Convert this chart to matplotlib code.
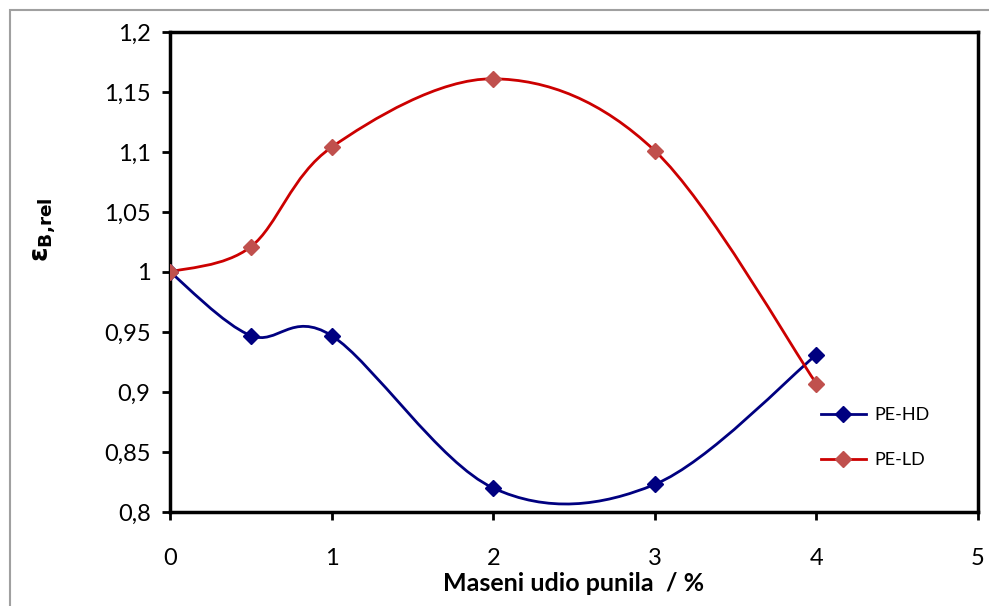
import numpy as np
import matplotlib.pyplot as plt
from matplotlib.path import Path
from matplotlib.patches import PathPatch, Rectangle
from matplotlib.lines import Line2D
from matplotlib.ticker import FuncFormatter

plt.rcParams['font.family'] = ['Lato', 'DejaVu Sans']

# data
x = [0, 0.5, 1, 2, 3, 4]
pe_hd = [1.0, 0.947, 0.947, 0.820, 0.823, 0.931]
pe_ld = [1.0, 1.021, 1.104, 1.161, 1.101, 0.907]
labels = ['PE-HD', 'PE-LD']


def smooth_path(xs, ys):
    # excel-like smoothed line: cubic bezier, control points from neighbours
    p = np.column_stack([xs, ys])
    pp = np.vstack([p[0], p, p[-1]])
    verts = [p[0]]
    codes = [Path.MOVETO]
    for i in range(len(p) - 1):
        a, b, c, d = pp[i], pp[i + 1], pp[i + 2], pp[i + 3]
        verts += [b + (c - a) / 6, c - (d - b) / 6, c]
        codes += [Path.CURVE4] * 3
    return Path(verts, codes)


fig = plt.figure(figsize=(9.89, 6.06), dpi=100)
fig.patches.append(Rectangle((10 / 989, -0.1), 1.2, 1 - 10 / 606 + 0.1,
                             transform=fig.transFigure, fill=False,
                             edgecolor='#a0a0a0', linewidth=1.5))
ax = fig.add_axes([170 / 989, 1 - 512 / 606, (978 - 170) / 989, (512 - 32) / 606])

ax.add_patch(PathPatch(smooth_path(x, pe_hd), fill=False, edgecolor='#000080',
                       linewidth=2.0, zorder=3))
ax.add_patch(PathPatch(smooth_path(x, pe_ld), fill=False, edgecolor='#cc0000',
                       linewidth=2.0, zorder=3))
ax.plot(x, pe_hd, linestyle='none', marker='D', markersize=8, color='#000080', zorder=4)
ax.plot(x, pe_ld, linestyle='none', marker='D', markersize=8, color='#c0504d', zorder=4)

ax.set_xlim(0, 5)
ax.set_ylim(0.8, 1.2)
ax.set_xticks(range(6))
ax.set_yticks(np.arange(0.8, 1.2001, 0.05))
ax.yaxis.set_major_formatter(FuncFormatter(lambda v, p: ('%g' % round(v, 2)).replace('.', ',')))
ax.tick_params(direction='out', length=6, width=2, labelsize=17, colors='black', pad=8)
ax.tick_params(axis='x', pad=20)
for s in ax.spines.values():
    s.set_linewidth(2.5)

ax.set_xlabel('Maseni udio punila  / %', fontsize=18, fontweight='bold', labelpad=2)
ax.set_ylabel(r'$\mathbf{\epsilon}_{\mathbf{B{,}rel}}$', fontsize=19)
ax.yaxis.set_label_coords(-0.139, 0.5875)

handles = [Line2D([], [], color='#000080', lw=2.0, marker='D', markersize=8),
           Line2D([], [], color='#cc0000', lw=2.0, marker='D', markersize=8,
                  markerfacecolor='#c0504d', markeredgecolor='#c0504d')]
ax.legend(handles, labels, loc='center left', bbox_to_anchor=(0.785, 0.155),
          frameon=False, fontsize=13, handlelength=2.5, handletextpad=0.5,
          labelspacing=1.6)

fig.savefig('out.png', dpi=100)
